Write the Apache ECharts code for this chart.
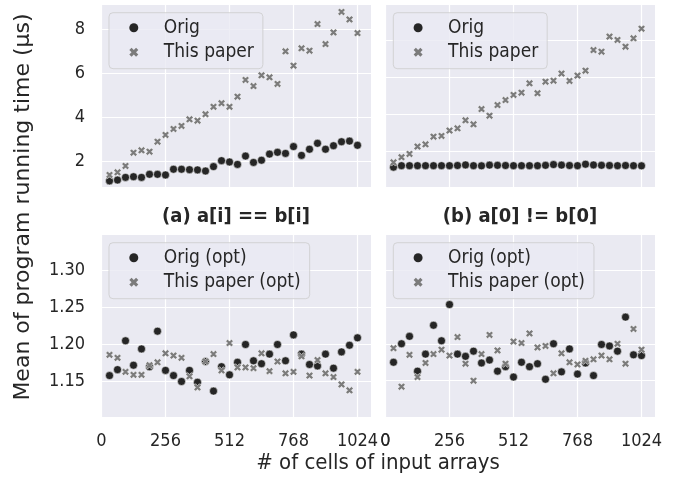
<!DOCTYPE html>
<html><head><meta charset="utf-8">
<script src="https://cdn.jsdelivr.net/npm/echarts@6/dist/echarts.min.js"></script>
<style>html,body{margin:0;padding:0;background:#fff}#c{width:678px;height:481px}</style>
</head><body><div id="c"></div>
<script>
// ---- data ----
const xCells = [32,64,96,128,160,192,224,256,288,320,352,384,416,448,480,512,544,576,608,640,672,704,736,768,800,832,864,896,928,960,992,1024];

// (a) a[i] == b[i], top
const origA  = [1.11,1.15,1.27,1.30,1.27,1.41,1.41,1.38,1.64,1.64,1.62,1.61,1.56,1.76,2.03,1.97,1.86,2.24,1.95,2.05,2.33,2.41,2.36,2.67,2.27,2.55,2.82,2.55,2.71,2.89,2.92,2.73];
const paperA = [1.38,1.50,1.79,2.39,2.50,2.44,2.89,3.20,3.47,3.61,3.91,3.85,4.14,4.48,4.64,4.48,4.94,5.70,5.42,5.91,5.82,5.52,7.00,6.35,7.14,7.03,8.24,7.33,7.86,8.79,8.45,7.83];
// (b) a[0] != b[0], top
const origB  = [1.12,1.20,1.20,1.20,1.20,1.20,1.20,1.20,1.21,1.24,1.20,1.19,1.23,1.22,1.21,1.20,1.20,1.20,1.20,1.22,1.26,1.23,1.21,1.20,1.28,1.24,1.22,1.21,1.20,1.21,1.20,1.19];
const paperB = [1.38,1.66,1.84,2.24,2.36,2.78,2.82,3.11,3.23,3.67,3.45,4.28,3.92,4.50,4.77,5.05,5.17,5.68,5.14,5.77,5.82,6.21,5.81,6.10,6.37,7.49,7.40,8.22,8.04,7.67,8.13,8.65];
// (a) optimized, bottom
const origOptA  = [1.158,1.166,1.205,1.172,1.194,1.170,1.218,1.165,1.158,1.150,1.165,1.149,1.177,1.137,1.170,1.159,1.176,1.200,1.178,1.174,1.187,1.200,1.178,1.213,1.187,1.173,1.171,1.187,1.168,1.190,1.199,1.209];
const paperOptA = [1.186,1.182,1.163,1.159,1.159,1.172,1.176,1.188,1.185,1.182,1.157,1.142,1.177,1.187,1.165,1.202,1.169,1.169,1.168,1.188,1.164,1.177,1.161,1.163,1.184,1.158,1.179,1.161,1.156,1.146,1.138,1.163];
// (b) optimized, bottom
const origOptB  = [1.175,1.200,1.210,1.163,1.186,1.225,1.204,1.253,1.186,1.183,1.190,1.174,1.178,1.163,1.169,1.155,1.175,1.169,1.173,1.152,1.200,1.162,1.193,1.159,1.174,1.157,1.199,1.197,1.190,1.236,1.185,1.184];
const paperOptB = [1.194,1.142,1.185,1.155,1.174,1.186,1.192,1.184,1.209,1.173,1.150,1.186,1.212,1.191,1.173,1.203,1.201,1.214,1.195,1.197,1.160,1.187,1.175,1.172,1.177,1.179,1.184,1.179,1.200,1.173,1.220,1.192];

const xTicks = [0,256,512,768,1024];
const yTicksTop = [2,4,6,8];
const yTicksBottom = [1.15,1.20,1.25,1.30];

const seriesNamesTop = ['Orig','This paper'];
const seriesNamesBottom = ['Orig (opt)','This paper (opt)'];
const panelTitles = ['(a) a[i] == b[i]','(b) a[0] != b[0]'];
const xTitle = '# of cells of input arrays';
const yTitle = 'Mean of program running time (\u03bcs)';

// ---- styling ----
const FONT = '"DejaVu Sans Condensed", "DejaVu Sans", sans-serif';
const FONTN = '"DejaVu Sans", sans-serif';
const TXT = '#262626';
const BG = '#EAEAF2';
const DARK = '#262626';
const GREY = '#7b7b7b';
const XPATH = 'path://M0.25,0L0.5,0.25L0.75,0L1,0.25L0.75,0.5L1,0.75L0.75,1L0.5,0.75L0.25,1L0,0.75L0.25,0.5L0,0.25Z';
const LABEL_MARGIN = 15;

const grids = [
  {left:101, top:5,   width:270, height:182},
  {left:385, top:5,   width:270, height:182},
  {left:101, top:235, width:270, height:182},
  {left:385, top:235, width:270, height:182}
].map(g => Object.assign({show:true, backgroundColor:BG, borderWidth:0, containLabel:false}, g));

const xRanges = [[-2,1078],[-2,1078],[-2,1078],[-2,1078]];
const yRanges = [[0.833,9.106],[0.04,9.94],[1.102,1.348],[1.101,1.347]];

const xAxes = grids.map((g,i) => ({
  type:'value', gridIndex:i, min:xRanges[i][0], max:xRanges[i][1],
  axisLine:{show:false}, axisTick:{show:false, customValues:xTicks},
  splitLine:{show:true, lineStyle:{color:'#fff', width:1.2}},
  axisLabel:{show:i>=2, customValues:xTicks, margin:LABEL_MARGIN, fontSize:18, color:TXT, fontFamily:FONT,
    hideOverlap:false, showMinLabel:true, showMaxLabel:true, formatter: v => String(v)}
}));
const yAxes = grids.map((g,i) => {
  const ticks = i < 2 ? yTicksTop : yTicksBottom;
  return {
    type:'value', gridIndex:i, min:yRanges[i][0], max:yRanges[i][1],
    axisLine:{show:false}, axisTick:{show:false, customValues:ticks},
    splitLine:{show:true, lineStyle:{color:'#fff', width:1.2}},
    axisLabel:{show:i%2===0, customValues:ticks, margin:16, fontSize:18, color:TXT, fontFamily:FONT,
      formatter: v => i < 2 ? String(v) : v.toFixed(2)}
  };
});

function sc(name, vals, idx, isX) {
  return {
    type:'scatter', name:name, xAxisIndex:idx, yAxisIndex:idx,
    data: xCells.map((x,k) => [x, vals[k]]),
    symbol: isX ? XPATH : 'circle',
    symbolSize: isX ? 7.5 : 8,
    symbolKeepAspect:true,
    itemStyle:{color: isX ? GREY : DARK, borderColor:'#fff', borderWidth:0.5, opacity:1},
    emphasis:{disabled:true}, silent:true, animation:false
  };
}
const series = [
  sc(seriesNamesTop[0], origA, 0, false), sc(seriesNamesTop[1], paperA, 0, true),
  sc(seriesNamesTop[0], origB, 1, false), sc(seriesNamesTop[1], paperB, 1, true),
  sc(seriesNamesBottom[0], origOptA, 2, false), sc(seriesNamesBottom[1], paperOptA, 2, true),
  sc(seriesNamesBottom[0], origOptB, 3, false), sc(seriesNamesBottom[1], paperOptB, 3, true)
];

function legend(names, left, top) {
  return {
    show:true, orient:'vertical', left:left, top:top, selectedMode:false,
    data:[{name:names[0], icon:'circle', itemStyle:{color:DARK}}, {name:names[1], icon:XPATH, itemStyle:{color:GREY}}],
    itemWidth:24, itemHeight:9, itemGap:5.4,
    padding:[5.6,9,7,20.3],
    backgroundColor:'rgba(234,234,242,0.8)', borderColor:'rgba(204,204,204,0.8)', borderWidth:1, borderRadius:4,
    textStyle:{fontSize:19, color:TXT, fontFamily:FONT, padding:[0,0,0,13]},
    itemStyle:{borderWidth:0}
  };
}

const option = {
  animation:false,
  backgroundColor:'#fff',
  grid: grids, xAxis: xAxes, yAxis: yAxes, series: series,
  legend: [
    legend(seriesNamesTop, 109, 12.7), legend(seriesNamesTop, 393.3, 12.7),
    legend(seriesNamesBottom, 109, 242.7), legend(seriesNamesBottom, 393.3, 242.7)
  ],
  graphic: [
    {id:'ta', type:'text', x:236, y:217, style:{text:panelTitles[0], font:'bold 20px '+FONT, fill:TXT, textAlign:'center', textVerticalAlign:'middle'}},
    {id:'tb', type:'text', x:520, y:217, style:{text:panelTitles[1], font:'bold 20px '+FONT, fill:TXT, textAlign:'center', textVerticalAlign:'middle'}},
    {id:'xt', type:'text', x:378, y:463, style:{text:xTitle, font:'22px '+FONT, fill:TXT, textAlign:'center', textVerticalAlign:'middle'}},
    {id:'yt', type:'text', x:23, y:207, rotation:Math.PI/2, style:{text:yTitle, font:'22px '+FONTN, fill:TXT, textAlign:'center', textVerticalAlign:'middle'}}
  ]
};
const chart = echarts.init(document.getElementById('c'), null, {renderer:'canvas'});
chart.setOption(option);

// The first tick label of the lower-right x axis (value xTicks[0]) is suppressed by the
// library next to the neighbouring panel's last label; place it from the axis scale.
const px0 = chart.convertToPixel({xAxisIndex:3}, xTicks[0]);
const pyBottom = chart.convertToPixel({yAxisIndex:3}, yRanges[3][0]);
chart.setOption({graphic:[
  {id:'x0', type:'text', x:px0, y:pyBottom + LABEL_MARGIN,
   style:{text:String(xTicks[0]), font:'18px '+FONT, fill:TXT, textAlign:'center', textVerticalAlign:'top'}}
]});
</script></body></html>
